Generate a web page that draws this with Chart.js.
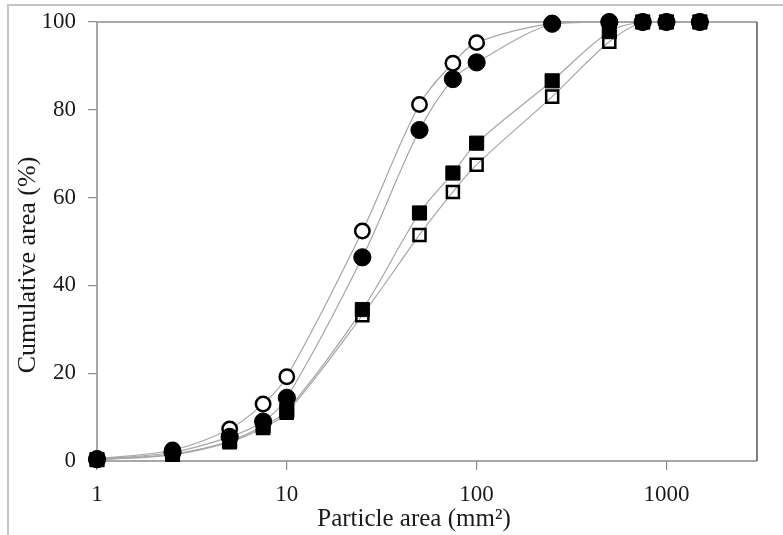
<!DOCTYPE html>
<html>
<head>
<meta charset="UTF-8">
<title>Cumulative area</title>
<script src="https://cdn.jsdelivr.net/npm/chart.js@4.4.1/dist/chart.umd.min.js"></script>
<style>
  body { margin: 0; background: #fff; }
  #wrap { position: relative; width: 783px; height: 535px; }
</style>
</head>
<body>
<div id="wrap"><canvas id="myChart" width="783" height="535"></canvas></div>

<script>
// particle area classes (mm2)
const sizes = [1, 2.5, 5, 7.5, 10, 25, 50, 75, 100, 250, 500, 750, 1000, 1500];
const xTicks = [1, 10, 100, 1000];
const yTicks = [0, 20, 40, 60, 80, 100];

// cumulative area (%) per sample
const openCircle   = [0.5, 2.5, 7.3, 13.0, 19.2, 52.4, 81.2, 90.6, 95.3, 99.7, 100, 100, 100, 100];
const filledCircle = [0.4, 2.0, 5.5, 9.0, 14.4, 46.4, 75.4, 87.0, 90.8, 99.6, 100, 100, 100, 100];
const filledSquare = [0.3, 1.6, 4.5, 8.0, 11.5, 34.5, 56.5, 65.6, 72.4, 86.6, 97.8, 100, 100, 100];
const openSquare   = [0.3, 1.4, 4.3, 7.5, 11.0, 33.2, 51.5, 61.3, 67.5, 83.0, 95.5, 100, 100, 100];

const xTitle = 'Particle area (mm\u00B2)';
const yTitle = 'Cumulative area (%)';

function pts(arr) {
  return sizes.map((s, i) => ({ x: s, y: arr[i] }));
}

const lineColor = '#a6a6a6';

function lineSet(arr) {
  return {
    data: pts(arr),
    borderColor: lineColor,
    borderWidth: 1.2,
    pointRadius: 0,
    tension: 0.35,
    fill: false,
    clip: false,
    order: 10
  };
}

function markerSet(arr, style, radius, filled, order) {
  return {
    data: pts(arr),
    showLine: false,
    clip: false,
    pointStyle: style,
    pointRadius: radius,
    pointHoverRadius: radius,
    pointBackgroundColor: filled ? '#000' : (style === 'circle' ? '#fff' : 'rgba(0,0,0,0)'),
    pointBorderColor: '#000',
    pointBorderWidth: filled ? 1 : 2.5,
    order: order
  };
}

// frame around the figure, plot box and the two axis titles
const decor = {
  id: 'decor',
  beforeDraw(chart) {
    const c = chart.ctx;
    c.save();
    c.fillStyle = '#fff';
    c.fillRect(0, 0, chart.width, chart.height);
    c.strokeStyle = '#c4c4c4';
    c.lineWidth = 2;
    c.beginPath();
    c.moveTo(783, 5);
    c.lineTo(8, 5);
    c.lineTo(8, 535);
    c.stroke();
    c.restore();
  },
  beforeDatasetsDraw(chart) {
    // plot box sits under the marks
    const a = chart.chartArea;
    const c = chart.ctx;
    c.save();
    c.lineWidth = 1.5;
    c.strokeStyle = '#8c8c8c';
    c.beginPath();
    c.moveTo(a.right, a.top);
    c.lineTo(a.left, a.top);
    c.lineTo(a.left, a.bottom);
    c.lineTo(a.right, a.bottom);
    c.stroke();
    c.strokeStyle = '#555';
    c.beginPath();
    c.moveTo(a.right, a.top);
    c.lineTo(a.right, a.bottom);
    c.stroke();
    c.restore();
  },
  afterDraw(chart) {
    const c = chart.ctx;
    c.save();
    c.fillStyle = '#1a1a1a';
    c.font = '25px "Liberation Serif"';
    c.textAlign = 'center';
    c.textBaseline = 'middle';
    c.fillText(xTitle, 414, 519);
    c.font = '26px "Liberation Serif"';
    c.translate(28, 265);
    c.rotate(-Math.PI / 2);
    c.fillText(yTitle, 0, 0);
    c.restore();
  }
};

const tickFont = { family: 'Liberation Serif', size: 23 };

const config = {
  type: 'line',
  data: {
    datasets: [
      markerSet(filledCircle, 'circle', 8.6, true, 1),
      markerSet(openCircle, 'circle', 7.2, false, 2),
      markerSet(filledSquare, 'rect', 10, true, 3),
      markerSet(openSquare, 'rect', 8.5, false, 4),
      lineSet(openCircle),
      lineSet(filledCircle),
      lineSet(filledSquare),
      lineSet(openSquare)
    ]
  },
  options: {
    responsive: false,
    animation: false,
    layout: { padding: { left: 0, top: 22, right: 26, bottom: 0 } },
    plugins: {
      legend: { display: false },
      tooltip: { enabled: false }
    },
    scales: {
      x: {
        type: 'logarithmic',
        min: 1,
        max: 3000,
        afterBuildTicks: s => { s.ticks = xTicks.map(v => ({ value: v })); },
        afterFit: s => { s.height = 74; s.paddingLeft = 0; s.paddingRight = 0; },
        ticks: {
          font: tickFont,
          color: '#1a1a1a',
          padding: 11,
          maxRotation: 0,
          autoSkip: false,
          callback: v => String(v)
        },
        grid: { drawOnChartArea: false, tickLength: 9, color: '#8c8c8c', lineWidth: 1.2 },
        border: { display: false }
      },
      y: {
        min: 0,
        max: 100,
        afterBuildTicks: s => { s.ticks = yTicks.map(v => ({ value: v })); },
        afterFit: s => { s.width = 97; s.paddingTop = 0; s.paddingBottom = 0; },
        ticks: {
          font: tickFont,
          color: '#1a1a1a',
          padding: 12
        },
        grid: { drawOnChartArea: false, tickLength: 9, color: '#8c8c8c', lineWidth: 1.2 },
        border: { display: false }
      }
    }
  },
  plugins: [decor]
};

let ctx = document.getElementById('myChart').getContext('2d');
const myChart = new Chart(ctx, config);
</script>
</body>
</html>
